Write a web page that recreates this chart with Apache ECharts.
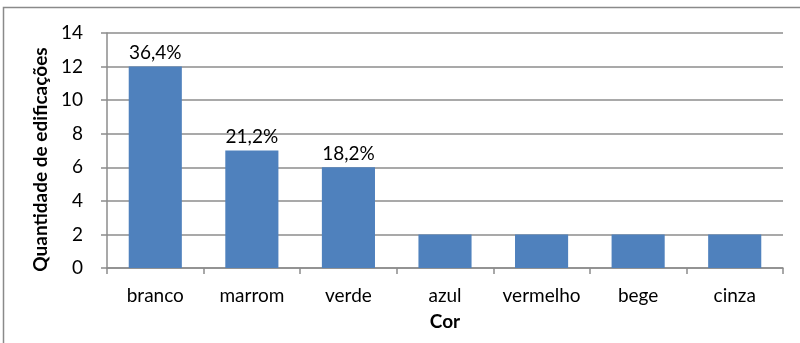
<!DOCTYPE html>
<html>
<head>
<meta charset="utf-8">
<script src="https://cdn.jsdelivr.net/npm/echarts@6/dist/echarts.min.js"></script>
<style>
  html, body { margin: 0; padding: 0; background: #fff; }
  #chart { width: 800px; height: 343px; }
</style>
</head>
<body>
<div id="chart"></div>
<script>
// Building counts by facade colour
const categories = ['branco', 'marrom', 'verde', 'azul', 'vermelho', 'bege', 'cinza'];
const counts = [12, 7, 6, 2, 2, 2, 2];
// Categories that carry a percentage label above the bar
const labelledCategories = ['branco', 'marrom', 'verde'];
const yTicks = { min: 0, max: 14, interval: 2 };

const total = counts.reduce((a, b) => a + b, 0);
const FONT = 'Lato, "Open Sans", sans-serif';
const GRID_GREY = '#8c8c8c';

const chart = echarts.init(document.getElementById('chart'), null, { renderer: 'canvas' });

chart.setOption({
  animation: false,
  backgroundColor: '#ffffff',
  textStyle: { fontFamily: FONT },
  graphic: [{
    type: 'rect',
    shape: { x: 3.5, y: 7.5, width: 810, height: 350 },
    style: { fill: null, stroke: '#8a8a8a', lineWidth: 1.5 },
    silent: true
  }],
  grid: { left: 107, right: 17, top: 33, bottom: 75 },
  xAxis: {
    type: 'category',
    data: categories,
    name: 'Cor',
    nameLocation: 'middle',
    nameGap: 44,
    nameTextStyle: { fontFamily: FONT, fontSize: 19, fontWeight: 'bold', color: '#000' },
    axisLine: { lineStyle: { color: GRID_GREY, width: 1.5 } },
    axisTick: { show: true, length: 6, lineStyle: { color: GRID_GREY, width: 1.5 } },
    axisLabel: { interval: 0, fontFamily: FONT, fontSize: 19, color: '#000', margin: 18 },
    splitLine: { show: false }
  },
  yAxis: {
    type: 'value',
    min: yTicks.min,
    max: yTicks.max,
    interval: yTicks.interval,
    name: 'Quantidade de edificações',
    nameLocation: 'middle',
    nameGap: 54,
    nameTextStyle: { fontFamily: FONT, fontSize: 19, fontWeight: 'bold', color: '#000', padding: [0, 18, 0, 0] },
    axisLine: { show: true, lineStyle: { color: GRID_GREY, width: 1.5 } },
    axisTick: { show: true, length: 6, lineStyle: { color: GRID_GREY, width: 1.5 } },
    axisLabel: { fontFamily: FONT, fontSize: 19, color: '#000', margin: 24 },
    splitLine: { show: true, lineStyle: { color: GRID_GREY, width: 1.5 } }
  },
  series: [{
    type: 'bar',
    data: counts,
    barWidth: '55%',
    itemStyle: { color: '#4f81bd' },
    label: {
      show: true,
      position: 'top',
      distance: 4,
      fontFamily: FONT,
      fontSize: 19,
      color: '#000',
      formatter: (p) => labelledCategories.includes(p.name)
        ? (p.value / total * 100).toFixed(1).replace('.', ',') + '%'
        : ''
    }
  }]
});
</script>
</body>
</html>
